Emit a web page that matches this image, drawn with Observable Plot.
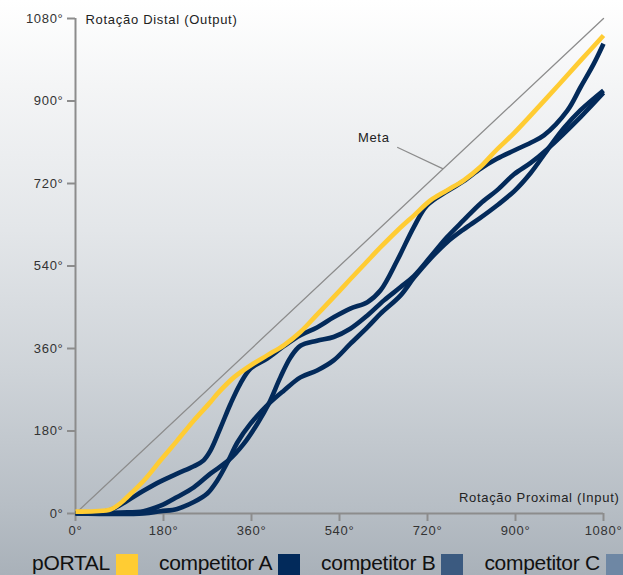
<!DOCTYPE html>
<html><head><meta charset="utf-8">
<script src="https://cdn.jsdelivr.net/npm/d3@7"></script>
<script src="https://cdn.jsdelivr.net/npm/@observablehq/plot@0.6"></script>
<style>
html,body{margin:0;padding:0;}
body{width:623px;height:575px;overflow:hidden;background:linear-gradient(to bottom,#ffffff 0%,#f4f5f6 15%,#e3e6e9 40%,#ced3d8 65%,#b7bec5 88%,#a9b1b9 100%);font-family:"Liberation Sans",Arial,sans-serif;}
#chart svg text{letter-spacing:0.7px;}
#legend{display:flex;height:30px;padding-left:32px;}
.item{display:flex;align-items:flex-start;margin-right:21px;}
.lab{font-size:21px;line-height:21px;margin-top:7px;color:#111;letter-spacing:-0.3px;white-space:nowrap;}
.sw{width:22px;height:26px;margin-top:9px;margin-left:6px;}
</style></head><body>
<div id="chart"></div><div id="legend"></div>
<script>
// ---- data ----
const seriesNames = ["pORTAL", "competitor A", "competitor B", "competitor C"];
const legendColors = ["#ffcc33", "#022a5b", "#3b5a80", "#6e87a4"];
const lineColors = ["#ffcc33", "#032a5a", "#032a5a", "#032a5a"];
const tickValues = [0, 180, 360, 540, 720, 900, 1080];

const portalX = [0, 40, 72, 95, 106, 140, 174, 208, 242, 276, 290, 324, 358, 392, 426, 460, 494, 528, 562, 592, 624, 658, 692, 726, 760, 794, 828, 860, 897, 965, 1033, 1080];
const portalY = [4, 5, 9, 25, 36, 72, 116, 159, 203, 243, 261, 297, 323, 345, 367, 396, 434, 472, 511, 545, 581, 617, 650, 683, 705, 727, 756, 792, 830, 908, 988, 1043];

const aX = [0, 40, 72, 106, 140, 174, 208, 242, 262, 276, 297, 317, 337, 358, 392, 426, 460, 494, 528, 562, 597, 624, 658, 692, 719, 760, 794, 828, 862, 897, 931, 958, 1006, 1033, 1060, 1080];
const aY = [1, 2, 8, 28, 50, 70, 87, 103, 116, 137, 188, 239, 283, 316, 338, 365, 389, 406, 428, 447, 461, 487, 552, 625, 672, 703, 725, 752, 774, 792, 809, 825, 879, 930, 981, 1025];

const bX = [0, 92, 139, 174, 208, 242, 276, 313, 344, 372, 395, 419, 440, 460, 494, 528, 562, 597, 631, 665, 692, 726, 760, 794, 828, 862, 897, 931, 965, 1033, 1080];
const bY = [0, 2, 5, 17, 36, 57, 87, 116, 152, 196, 239, 297, 341, 366, 377, 385, 403, 432, 465, 494, 518, 560, 603, 640, 676, 705, 740, 765, 795, 865, 918];

const cX = [0, 139, 174, 208, 242, 269, 290, 313, 331, 358, 395, 426, 460, 494, 528, 562, 597, 624, 665, 692, 726, 760, 794, 828, 862, 897, 931, 965, 999, 1033, 1080];
const cY = [0, 0, 5, 10, 25, 43, 72, 116, 155, 196, 239, 268, 297, 312, 334, 370, 406, 436, 476, 514, 556, 592, 620, 645, 672, 703, 743, 793, 841, 880, 923];

const metaX = [0, 1080];
const metaY = [0, 1080];
const metaLabel = [{x: 610, y: 820, text: "Meta"}];
const metaLeader = [{x1: 658, y1: 799, x2: 752, y2: 752}];
const xTitle = ["Rotação Proximal (Input)"];
const yTitle = ["Rotação Distal (Output)"];

// ---- build ----
const seriesX = [portalX, aX, bX, cX];
const seriesY = [portalY, aY, bY, cY];
const rows = seriesNames.flatMap((s, k) => seriesX[k].map((x, i) => ({series: s, x, y: seriesY[k][i], color: lineColors[k]})));
const metaRows = metaX.map((x, i) => ({x, y: metaY[i]}));
const gray = "#8c8c8c";
const deg = d => d + "°";

const chart = Plot.plot({
  width: 623, height: 545,
  marginLeft: 75, marginRight: 20, marginTop: 18, marginBottom: 32,
  style: {background: "transparent", fontFamily: "'Liberation Sans', Arial, sans-serif", fontSize: "13px", color: "#333", overflow: "visible"},
  x: {domain: [0, 1080]},
  y: {domain: [0, 1080]},
  marks: [
    Plot.line(metaRows, {x: "x", y: "y", stroke: gray, strokeWidth: 1.3}),
    Plot.link(metaLeader, {x1: "x1", y1: "y1", x2: "x2", y2: "y2", stroke: gray, strokeWidth: 1.2}),
    Plot.text(metaLabel, {x: "x", y: "y", text: "text", fontSize: 13, fill: "#222"}),
    Plot.ruleX([0], {stroke: gray, strokeWidth: 2}),
    Plot.ruleY([0], {stroke: gray, strokeWidth: 2}),
    Plot.axisX({ticks: tickValues, tickFormat: deg, tickSize: 8, tickPadding: 4, stroke: gray, strokeWidth: 2, fill: "#333", fontSize: 13, label: null}),
    Plot.axisY({ticks: tickValues, tickFormat: deg, tickSize: 8, tickPadding: 4, stroke: gray, strokeWidth: 2, fill: "#333", fontSize: 13, label: null}),
    Plot.line(rows.filter(d => d.series !== "pORTAL"), {x: "x", y: "y", z: "series", stroke: "color", strokeWidth: 4.6, curve: "catmull-rom", strokeLinecap: "butt"}),
    Plot.line(rows.filter(d => d.series === "pORTAL"), {x: "x", y: "y", z: "series", stroke: "color", strokeWidth: 4.6, curve: "catmull-rom", strokeLinecap: "butt"}),
    Plot.text(yTitle, {frameAnchor: "top-left", text: d => d, textAnchor: "start", lineAnchor: "middle", dx: 10, dy: 1, fontSize: 13, fill: "#222"}),
    Plot.text(xTitle, {frameAnchor: "bottom-right", text: d => d, textAnchor: "end", lineAnchor: "middle", dx: 16, dy: -16, fontSize: 13, fill: "#222"})
  ]
});
document.getElementById("chart").appendChild(chart);

const legend = document.getElementById("legend");
seriesNames.forEach((s, k) => {
  const item = document.createElement("div");
  item.className = "item";
  const lab = document.createElement("span");
  lab.className = "lab";
  lab.textContent = s;
  const sw = document.createElement("span");
  sw.className = "sw";
  sw.style.background = legendColors[k];
  item.appendChild(lab);
  item.appendChild(sw);
  legend.appendChild(item);
});
</script></body></html>
